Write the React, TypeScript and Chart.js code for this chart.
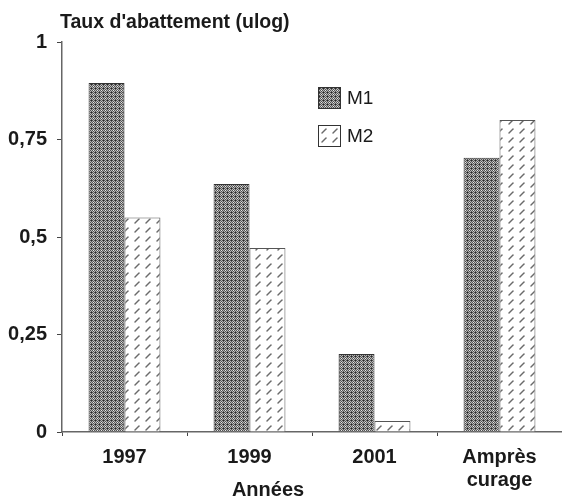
import React, { useEffect, useRef } from "react";
import { Chart, registerables } from "chart.js";

Chart.register(...registerables);

const categories: (string | string[])[] = ["1997", "1999", "2001", ["Amprès", "curage"]];
const m1Values = [0.895, 0.636, 0.2, 0.703];
const m2Values = [0.55, 0.472, 0.028, 0.8];
const yTicks = [0, 0.25, 0.5, 0.75, 1];
const seriesNames = ["M1", "M2"];
const yTitle = "Taux d'abattement (ulog)";
const xTitle = "Années";

const FONT = '"Liberation Sans Narrow", "Arial Narrow", "Liberation Sans", Arial, sans-serif';

function makeM1Pattern(): CanvasPattern | string {
  const c = document.createElement("canvas");
  c.width = 4;
  c.height = 4;
  const ctx = c.getContext("2d");
  if (!ctx) return "#888";
  for (let y = 0; y < 4; y++) {
    for (let x = 0; x < 4; x++) {
      ctx.fillStyle = (x + y) % 2 === 0 ? "#525252" : "#b8b8b8";
      ctx.fillRect(x, y, 1, 1);
    }
  }
  ctx.fillStyle = "#e8e8e8";
  ctx.fillRect(1, 2, 1, 1);
  ctx.fillStyle = "#2a2a2a";
  ctx.fillRect(3, 0, 1, 1);
  return ctx.createPattern(c, "repeat") as CanvasPattern;
}

function makeM2Pattern(): CanvasPattern | string {
  const c = document.createElement("canvas");
  c.width = 11;
  c.height = 9;
  const ctx = c.getContext("2d");
  if (!ctx) return "#eee";
  ctx.fillStyle = "#ffffff";
  ctx.fillRect(0, 0, 11, 9);
  ctx.strokeStyle = "#6a6a6a";
  ctx.lineWidth = 1.5;
  ctx.lineCap = "round";
  ctx.beginPath();
  ctx.moveTo(3, 7);
  ctx.lineTo(7, 3);
  ctx.stroke();
  return ctx.createPattern(c, "repeat") as CanvasPattern;
}

export default function App() {
  const ref = useRef<HTMLCanvasElement | null>(null);

  useEffect(() => {
    if (!ref.current) return;
    const p1 = makeM1Pattern();
    const p2 = makeM2Pattern();

    const textPlugin = {
      id: "customText",
      afterDraw(chart: any) {
        const ctx = chart.ctx;
        ctx.save();
        ctx.fillStyle = "#1a1a1a";
        ctx.font = `bold 19.5px ${FONT}`;
        ctx.textAlign = "left";
        ctx.textBaseline = "alphabetic";
        ctx.fillText(yTitle, 60, 28);
        ctx.font = `bold 20px ${FONT}`;
        ctx.textAlign = "center";
        ctx.fillText(xTitle, 268, 496);
        // legend
        const fills = [p1, p2];
        const ys = [87, 125];
        ctx.font = `19px ${FONT}`;
        ctx.textAlign = "left";
        ctx.textBaseline = "middle";
        for (let i = 0; i < seriesNames.length; i++) {
          ctx.fillStyle = fills[i];
          ctx.fillRect(318, ys[i], 23, 22);
          ctx.strokeStyle = "#333";
          ctx.lineWidth = 1;
          ctx.strokeRect(318.5, ys[i] + 0.5, 22, 21);
          ctx.fillStyle = "#1a1a1a";
          ctx.fillText(seriesNames[i], 347, ys[i] + 12);
        }
        ctx.restore();
      },
    };

    const chart = new Chart(ref.current, {
      type: "bar",
      data: {
        labels: categories,
        datasets: [
          {
            label: seriesNames[0],
            data: m1Values,
            backgroundColor: p1 as any,
            borderColor: "#333",
            borderWidth: 1,
          },
          {
            label: seriesNames[1],
            data: m2Values,
            backgroundColor: p2 as any,
            borderColor: "#555",
            borderWidth: 1,
          },
        ],
      },
      options: {
        animation: false,
        responsive: false,
        maintainAspectRatio: false,
        layout: { padding: { top: 42, left: 0, right: 0, bottom: 0 } },
        datasets: { bar: { barPercentage: 1, categoryPercentage: 0.575 } },
        plugins: {
          legend: { display: false },
          tooltip: { enabled: false },
        },
        scales: {
          x: {
            offset: true,
            border: { color: "#666", width: 1.5 },
            grid: {
              offset: true,
              drawOnChartArea: false,
              drawTicks: true,
              tickLength: 4,
              color: "#444",
            },
            ticks: {
              color: "#1a1a1a",
              font: { family: FONT, size: 20, weight: "bold", lineHeight: 1.15 },
              padding: 10,
              maxRotation: 0,
              autoSkip: false,
            },
            afterFit(scale: any) {
              scale.height = 68;
            },
          },
          y: {
            min: 0,
            max: 1,
            afterBuildTicks(scale: any) {
              scale.ticks = yTicks.map((v) => ({ value: v }));
            },
            border: { color: "#666", width: 1.5 },
            grid: {
              drawOnChartArea: false,
              drawTicks: true,
              tickLength: 5,
              color: "#444",
            },
            ticks: {
              color: "#1a1a1a",
              font: { family: FONT, size: 20, weight: "bold" },
              padding: 10,
              callback: (v: any) => String(v).replace(".", ","),
            },
            afterFit(scale: any) {
              scale.width = 62;
            },
          },
        },
      },
      plugins: [textPlugin],
    } as any);

    return () => chart.destroy();
  }, []);

  return (
    <div style={{ position: "fixed", left: 0, top: 0, width: 562, height: 500, background: "#fff" }}>
      <canvas ref={ref} width={562} height={500} style={{ width: 562, height: 500, display: "block" }} />
    </div>
  );
}
